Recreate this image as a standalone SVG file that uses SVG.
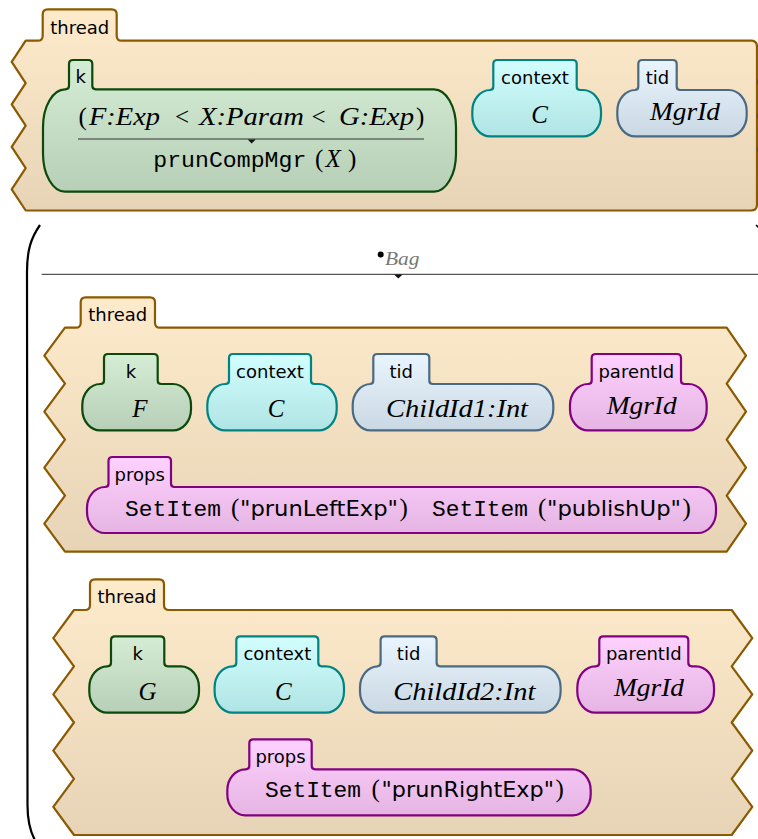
<svg xmlns="http://www.w3.org/2000/svg" width="758" height="839" viewBox="0 0 758 839">
  <defs>
    <linearGradient id="gThread" x1="0" y1="0" x2="0" y2="1">
      <stop offset="0" stop-color="#fdebcc"/>
      <stop offset="1" stop-color="#e7d4b6"/>
    </linearGradient>
    <linearGradient id="gK" x1="0" y1="0" x2="0" y2="1">
      <stop offset="0" stop-color="#d5edd5"/>
      <stop offset="1" stop-color="#b6cfb6"/>
    </linearGradient>
    <linearGradient id="gCtx" x1="0" y1="0" x2="0" y2="1">
      <stop offset="0" stop-color="#d2fefe"/>
      <stop offset="1" stop-color="#b0e4e4"/>
    </linearGradient>
    <linearGradient id="gTid" x1="0" y1="0" x2="0" y2="1">
      <stop offset="0" stop-color="#e9f5fe"/>
      <stop offset="1" stop-color="#cad8e3"/>
    </linearGradient>
    <linearGradient id="gPur" x1="0" y1="0" x2="0" y2="1">
      <stop offset="0" stop-color="#fed1fe"/>
      <stop offset="1" stop-color="#e5b4e3"/>
    </linearGradient>
  </defs>
  <style>
    .thread { fill: url(#gThread); stroke: #8b5a00; stroke-width: 2.2; stroke-linejoin: round; }
    .k { fill: url(#gK); stroke: #0b4a0b; stroke-width: 2.2; }
    .ctx { fill: url(#gCtx); stroke: #008383; stroke-width: 2.2; }
    .tid { fill: url(#gTid); stroke: #4a6a84; stroke-width: 2.2; }
    .pur { fill: url(#gPur); stroke: #820082; stroke-width: 2.2; }
    .lbl { font-family: "DejaVu Sans", "Liberation Sans", sans-serif; font-size: 18px; text-anchor: middle; fill: #000; }
    .m { font-family: "Liberation Serif", serif; font-style: italic; font-size: 25px; fill: #000; }
    .mc { font-family: "Liberation Serif", serif; font-style: italic; font-size: 25px; fill: #000; text-anchor: middle; }
    .up { font-family: "Liberation Serif", serif; font-size: 25px; fill: #000; }
    .tt { font-family: "Liberation Mono", monospace; font-size: 22px; fill: #000; }
    .sf { font-family: "DejaVu Sans", "Liberation Sans", sans-serif; font-size: 22px; fill: #000; }
    .rule { stroke: #333; stroke-width: 1.2; fill: none; }
  </style>

  <!-- top thread cell -->
  <g id="thread1">
    <path class="thread" d="M 25.7,40.7 L 37.7,40.7 Q 42.7,40.7 42.7,35.7 L 42.7,14.3 Q 42.7,9.3 47.7,9.3 L 111.7,9.3 Q 116.7,9.3 116.7,14.3 L 116.7,35.7 Q 116.7,40.7 121.7,40.7 L 751,40.7 Q 757,40.7 757,46.7 L 757,204.5 Q 757,210.5 751,210.5 L 25.7,210.5 L 11.7,189.3 L 25.7,168.1 L 11.7,146.8 L 25.7,125.6 L 11.7,104.4 L 25.7,83.1 L 11.7,61.9 Z"/>
    <text class="lbl" x="79.7" y="34">thread</text>
    <circle cx="759.5" cy="82" r="3" fill="#6e4c12"/>
    <circle cx="759.5" cy="116" r="3" fill="#6e4c12"/>
    <circle cx="759.5" cy="149.5" r="3" fill="#6e4c12"/>
  </g>

  <g id="thread1-k">
    <path class="k" d="M 95.8,89.3 h 338.2 a 22,38 0 0 1 22,38 v 26.4 a 22,38 0 0 1 -22,38 h -369 a 22,38 0 0 1 -22,-38 v -26.4 a 22,38 0 0 1 22,-38 h 0.5 q 3.5,0 3.5,-3.5 v -21.8 q 0,-4 4,-4 h 15.3 q 4,0 4,4 v 21.8 q 0,3.5 3.5,3.5 z"/>
    <text class="lbl" x="80.7" y="83">k</text>
    <text class="up" x="78.5" y="125">(</text>
    <text class="m" x="89" y="125" textLength="71" lengthAdjust="spacingAndGlyphs">F:Exp</text>
    <text class="up" x="175" y="125">&lt;</text>
    <text class="m" x="199" y="125" textLength="105" lengthAdjust="spacingAndGlyphs">X:Param</text>
    <text class="up" x="311.5" y="125">&lt;</text>
    <text class="m" x="339" y="125" textLength="75" lengthAdjust="spacingAndGlyphs">G:Exp</text>
    <text class="up" x="416" y="125">)</text>
    <line class="rule" x1="78" y1="139" x2="424" y2="139"/>
    <path d="M 247.7,139.4 L 255.7,139.4 L 251.7,143.6 Z" fill="#111"/>
    <text class="tt" x="153.3" y="167" textLength="153" lengthAdjust="spacingAndGlyphs">prunCompMgr</text>
    <text class="up" x="315" y="167">(</text>
    <text class="m" x="325.5" y="167">X</text>
    <text class="up" x="348" y="167">)</text>
  </g>

  <g id="thread1-context">
    <path class="ctx" d="M 580.2,90 h 2.8 a 18,21.2 0 0 1 18,21.2 v 4 a 18,21.2 0 0 1 -18,21.2 h -92.7 a 18,21.2 0 0 1 -18,-21.2 v -4 a 18,21.2 0 0 1 18,-21.2 h -0.5 q 3.5,0 3.5,-3.5 v -22.5 q 0,-4 4,-4 h 75.4 q 4,0 4,4 v 22.5 q 0,3.5 3.5,3.5 z"/>
    <text class="lbl" x="535" y="84">context</text>
    <text class="mc" x="539.5" y="122.5">C</text>
  </g>

  <g id="thread1-tid">
    <path class="tid" d="M 680.2,90 h 48.5 a 18,21.2 0 0 1 18,21.2 v 4 a 18,21.2 0 0 1 -18,21.2 h -93.4 a 18,21.2 0 0 1 -18,-21.2 v -4 a 18,21.2 0 0 1 18,-21.2 h -0.5 q 3.5,0 3.5,-3.5 v -22.5 q 0,-4 4,-4 h 30.4 q 4,0 4,4 v 22.5 q 0,3.5 3.5,3.5 z"/>
    <text class="lbl" x="657.5" y="84">tid</text>
    <text class="m" x="650" y="120" textLength="70" lengthAdjust="spacingAndGlyphs">MgrId</text>
  </g>

  <!-- bag of child threads -->
  <g id="bag">
    <path d="M 40,225 C 31,238 27,250 27,272 L 27.5,805 C 27.5,822 30,832 36,842" fill="none" stroke="#000" stroke-width="2.2"/>
    <path d="M 756,225 L 758.5,227.5" fill="none" stroke="#000" stroke-width="1.6"/>
    <circle cx="380.7" cy="254.5" r="3" fill="#000"/>
    <text x="385" y="265" font-family="Liberation Serif, serif" font-style="italic" font-size="18" fill="#777" textLength="34.5" lengthAdjust="spacingAndGlyphs">Bag</text>
    <line x1="41.7" y1="274.3" x2="758" y2="274.3" stroke="#555" stroke-width="1.2"/>
    <path d="M 394,274.6 L 402.6,274.6 L 398.3,278.6 Z" fill="#111"/>
  </g>

  <!-- first child thread -->
  <g id="thread2">
    <path class="thread" d="M 65,327.7 L 75.7,327.7 Q 80.7,327.7 80.7,322.7 L 80.7,302.3 Q 80.7,297.3 85.7,297.3 L 150,297.3 Q 155,297.3 155,302.3 L 155,322.7 Q 155,327.7 160,327.7 L 726.7,327.7 L 746,355.7 L 726.7,383.7 L 746,411.7 L 726.7,439.7 L 746,467.7 L 726.7,495.7 L 746,523.7 L 726.7,551.7 L 65,551.7 L 44.3,523.7 L 65,495.7 L 44.3,467.7 L 65,439.7 L 44.3,411.7 L 65,383.7 L 44.3,355.7 Z"/>
    <text class="lbl" x="117.8" y="321">thread</text>
  </g>

  <g id="thread2-k">
    <path class="k" d="M 161.2,384 h 11.8 a 18,21.2 0 0 1 18,21.2 v 4 a 18,21.2 0 0 1 -18,21.2 h -72.7 a 18,21.2 0 0 1 -18,-21.2 v -4 a 18,21.2 0 0 1 18,-21.2 h 0.2 q 3.5,0 3.5,-3.5 v -22.5 q 0,-4 4,-4 h 45.7 q 4,0 4,4 v 22.5 q 0,3.5 3.5,3.5 z"/>
    <text class="lbl" x="130.9" y="377.5">k</text>
    <text class="mc" x="140" y="417">F</text>
  </g>

  <g id="thread2-context">
    <path class="ctx" d="M 314.5,384 h 4.2 a 18,21.2 0 0 1 18,21.2 v 4 a 18,21.2 0 0 1 -18,21.2 h -93.4 a 18,21.2 0 0 1 -18,-21.2 v -4 a 18,21.2 0 0 1 18,-21.2 h 0.2 q 3.5,0 3.5,-3.5 v -22.5 q 0,-4 4,-4 h 74 q 4,0 4,4 v 22.5 q 0,3.5 3.5,3.5 z"/>
    <text class="lbl" x="270" y="377.5">context</text>
    <text class="mc" x="276" y="417">C</text>
  </g>

  <g id="thread2-tid">
    <path class="tid" d="M 432.8,384 h 102.5 a 18,21.2 0 0 1 18,21.2 v 4 a 18,21.2 0 0 1 -18,21.2 h -164.6 a 18,21.2 0 0 1 -18,-21.2 v -4 a 18,21.2 0 0 1 18,-21.2 h -0.9 q 3.5,0 3.5,-3.5 v -22.5 q 0,-4 4,-4 h 48 q 4,0 4,4 v 22.5 q 0,3.5 3.5,3.5 z"/>
    <text class="lbl" x="401.3" y="377.5">tid</text>
    <text class="m" x="386" y="417" textLength="142" lengthAdjust="spacingAndGlyphs">ChildId1:Int</text>
  </g>

  <g id="thread2-parentId">
    <path class="pur" d="M 684.5,384 h 4.2 a 18,21.2 0 0 1 18,21.2 v 4 a 18,21.2 0 0 1 -18,21.2 h -100.7 a 18,21.2 0 0 1 -18,-21.2 v -4 a 18,21.2 0 0 1 18,-21.2 h 0.2 q 3.5,0 3.5,-3.5 v -22.5 q 0,-4 4,-4 h 81.3 q 4,0 4,4 v 22.5 q 0,3.5 3.5,3.5 z"/>
    <text class="lbl" x="636.3" y="377.5">parentId</text>
    <text class="m" x="606.7" y="414" textLength="70" lengthAdjust="spacingAndGlyphs">MgrId</text>
  </g>

  <g id="thread2-props">
    <path class="pur" d="M 174.5,487 h 523.5 a 18,21 0 0 1 18,21 v 4 a 18,21 0 0 1 -18,21 h -593 a 18,21 0 0 1 -18,-21 v -4 a 18,21 0 0 1 18,-21 h 0 q 3.5,0 3.5,-3.5 v -22.5 q 0,-4 4,-4 h 54.5 q 4,0 4,4 v 22.5 q 0,3.5 3.5,3.5 z"/>
    <text class="lbl" x="139.7" y="481">props</text>
    <text class="tt" x="125" y="516" textLength="96" lengthAdjust="spacingAndGlyphs">SetItem</text>
    <text class="up" x="231" y="516">(</text>
    <text class="sf" x="240" y="516" textLength="158" lengthAdjust="spacingAndGlyphs">"prunLeftExp"</text>
    <text class="up" x="399.5" y="516">)</text>
    <text class="tt" x="432" y="516" textLength="96" lengthAdjust="spacingAndGlyphs">SetItem</text>
    <text class="up" x="538" y="516">(</text>
    <text class="sf" x="547" y="516" textLength="134" lengthAdjust="spacingAndGlyphs">"publishUp"</text>
    <text class="up" x="682.5" y="516">)</text>
  </g>

  <!-- second child thread -->
  <g id="thread3">
    <path class="thread" d="M 74,610 L 85,610 Q 90,610 90,605 L 90,584.3 Q 90,579.3 95,579.3 L 159,579.3 Q 164,579.3 164,584.3 L 164,605 Q 164,610 169,610 L 731.7,610 L 752.3,638.1 L 731.7,666.3 L 752.3,694.4 L 731.7,722.5 L 752.3,750.6 L 731.7,778.8 L 752.3,806.9 L 731.7,835 L 74,835 L 53.3,806.9 L 74,778.8 L 53.3,750.6 L 74,722.5 L 53.3,694.4 L 74,666.3 L 53.3,638.1 Z"/>
    <text class="lbl" x="127" y="603">thread</text>
  </g>

  <g id="thread3-k">
    <path class="k" d="M 167.8,666.3 h 13.2 a 18,21.2 0 0 1 18,21.2 v 4 a 18,21.2 0 0 1 -18,21.2 h -73.7 a 18,21.2 0 0 1 -18,-21.2 v -4 a 18,21.2 0 0 1 18,-21.2 h 0.2 q 3.5,0 3.5,-3.5 v -22.5 q 0,-4 4,-4 h 45.3 q 4,0 4,4 v 22.5 q 0,3.5 3.5,3.5 z"/>
    <text class="lbl" x="137.6" y="660">k</text>
    <text class="mc" x="147.5" y="699.5">G</text>
  </g>

  <g id="thread3-context">
    <path class="ctx" d="M 321.8,666.3 h 4.2 a 18,21.2 0 0 1 18,21.2 v 4 a 18,21.2 0 0 1 -18,21.2 h -93.4 a 18,21.2 0 0 1 -18,-21.2 v -4 a 18,21.2 0 0 1 18,-21.2 h 0.2 q 3.5,0 3.5,-3.5 v -22.5 q 0,-4 4,-4 h 74 q 4,0 4,4 v 22.5 q 0,3.5 3.5,3.5 z"/>
    <text class="lbl" x="277.3" y="660">context</text>
    <text class="mc" x="283.3" y="699.5">C</text>
  </g>

  <g id="thread3-tid">
    <path class="tid" d="M 440.1,666.3 h 102.5 a 18,21.2 0 0 1 18,21.2 v 4 a 18,21.2 0 0 1 -18,21.2 h -164.6 a 18,21.2 0 0 1 -18,-21.2 v -4 a 18,21.2 0 0 1 18,-21.2 h -0.9 q 3.5,0 3.5,-3.5 v -22.5 q 0,-4 4,-4 h 48 q 4,0 4,4 v 22.5 q 0,3.5 3.5,3.5 z"/>
    <text class="lbl" x="408.6" y="660">tid</text>
    <text class="m" x="393.3" y="699.5" textLength="142" lengthAdjust="spacingAndGlyphs">ChildId2:Int</text>
  </g>

  <g id="thread3-parentId">
    <path class="pur" d="M 691.8,666.3 h 4.2 a 18,21.2 0 0 1 18,21.2 v 4 a 18,21.2 0 0 1 -18,21.2 h -100.7 a 18,21.2 0 0 1 -18,-21.2 v -4 a 18,21.2 0 0 1 18,-21.2 h 0.5 q 3.5,0 3.5,-3.5 v -22.5 q 0,-4 4,-4 h 81 q 4,0 4,4 v 22.5 q 0,3.5 3.5,3.5 z"/>
    <text class="lbl" x="643.8" y="660">parentId</text>
    <text class="m" x="614" y="696" textLength="70" lengthAdjust="spacingAndGlyphs">MgrId</text>
  </g>

  <g id="thread3-props">
    <path class="pur" d="M 315.2,769.3 h 257.5 a 18,21 0 0 1 18,21 v 4 a 18,21 0 0 1 -18,21 h -327.4 a 18,21 0 0 1 -18,-21 v -4 a 18,21 0 0 1 18,-21 h 0.5 q 3.5,0 3.5,-3.5 v -22.5 q 0,-4 4,-4 h 54.4 q 4,0 4,4 v 22.5 q 0,3.5 3.5,3.5 z"/>
    <text class="lbl" x="280.5" y="763.3">props</text>
    <text class="tt" x="265" y="797" textLength="96" lengthAdjust="spacingAndGlyphs">SetItem</text>
    <text class="up" x="371.5" y="797">(</text>
    <text class="sf" x="381.5" y="797" textLength="172.5" lengthAdjust="spacingAndGlyphs">"prunRightExp"</text>
    <text class="up" x="555.5" y="797">)</text>
  </g>
</svg>
